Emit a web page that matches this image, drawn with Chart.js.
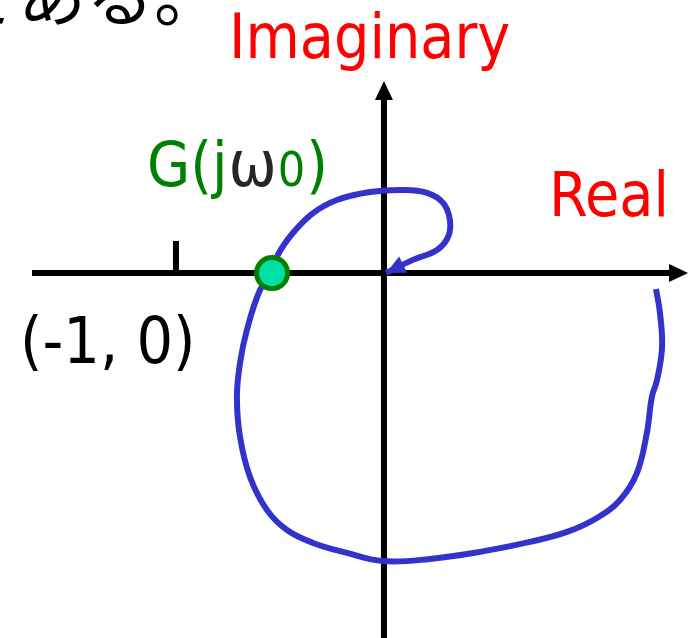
<!DOCTYPE html>
<html>
<head>
<meta charset="utf-8">
<script src="https://cdn.jsdelivr.net/npm/chart.js@4"></script>
<style>
  html, body { margin: 0; padding: 0; background: #fff; }
  canvas { display: block; }
</style>
</head>
<body>
<canvas id="nyquist" width="692" height="638"></canvas>
<script>
// Nyquist locus sketch, G(jω) (real, imaginary)
const locusRe = [1.308, 1.327, 1.337, 1.313, 1.288, 1.264, 1.216, 1.135, 1.024, 0.880, 0.702, 0.462, 0.221, -0.005,
  -0.178, -0.341, -0.466, -0.563, -0.644, -0.692, -0.707, -0.692, -0.659, -0.596, -0.538, -0.510, -0.438, -0.341,
  -0.226, -0.067, 0.091, 0.207, 0.284, 0.317, 0.308, 0.255, 0.139, 0.010];
const locusIm = [-0.077, -0.192, -0.356, -0.514, -0.596, -0.769, -0.962, -1.091, -1.178, -1.245, -1.293, -1.341, -1.375, -1.385,
  -1.346, -1.298, -1.236, -1.139, -0.981, -0.788, -0.596, -0.433, -0.274, -0.082, 0.000, 0.087, 0.192, 0.288,
  0.351, 0.389, 0.399, 0.385, 0.337, 0.255, 0.173, 0.111, 0.063, 0.000];

// crossing of the negative real axis, and the critical point
const crossPoint = [-0.538, 0];
const criticalRe = -1;
const tickHeight = 0.154;

// axis extents, arrow tip last (real axis, imaginary axis)
const realAxis = [-1.692, 1.462];
const imagAxis = [-1.755, 0.923];

const labels = {imag: 'Imaginary', real: 'Real', critical: '(-1, 0)', tail: 'である。'};

const LATIN = '"DejaVu Sans Condensed", "Liberation Sans", sans-serif';
const ARROW_LEN = 19, ARROW_HALF = 9;
const AXIS_W = 6;

const toXY = (xs, ys) => xs.map((x, i) => ({x, y: ys[i]}));

// filled triangle whose tip sits on `to`, pointing away from `from`
function arrowHead(ctx, from, to, color) {
  const a = Math.atan2(to.y - from.y, to.x - from.x);
  ctx.save();
  ctx.fillStyle = color;
  ctx.translate(to.x, to.y);
  ctx.rotate(a);
  ctx.beginPath();
  ctx.moveTo(0, 0);
  ctx.lineTo(-ARROW_LEN, -ARROW_HALF);
  ctx.lineTo(-ARROW_LEN, ARROW_HALF);
  ctx.closePath();
  ctx.fill();
  ctx.restore();
}

const decorations = {
  id: 'decorations',
  beforeDatasetsDraw(chart) {
    const {ctx, scales: {x, y}} = chart;
    const ox = x.getPixelForValue(0), oy = y.getPixelForValue(0);
    const rx0 = x.getPixelForValue(realAxis[0]), rx1 = x.getPixelForValue(realAxis[1]);
    const iy0 = y.getPixelForValue(imagAxis[0]), iy1 = y.getPixelForValue(imagAxis[1]);
    ctx.save();
    ctx.strokeStyle = '#000';
    ctx.lineWidth = AXIS_W;
    ctx.beginPath();
    ctx.moveTo(rx0, oy);
    ctx.lineTo(rx1 - ARROW_LEN + 1, oy);
    ctx.moveTo(ox, iy0);
    ctx.lineTo(ox, iy1 + ARROW_LEN - 1);
    ctx.stroke();
    ctx.restore();
    arrowHead(ctx, {x: ox, y: oy}, {x: rx1, y: oy}, '#000');
    arrowHead(ctx, {x: ox, y: oy}, {x: ox, y: iy1}, '#000');
  },
  afterDatasetsDraw(chart) {
    const {ctx, scales: {x, y}} = chart;
    // arrow at the end of the locus
    const n = locusRe.length;
    const p1 = {x: x.getPixelForValue(locusRe[n - 2]), y: y.getPixelForValue(locusIm[n - 2])};
    const p2 = {x: x.getPixelForValue(locusRe[n - 1]), y: y.getPixelForValue(locusIm[n - 1])};
    arrowHead(ctx, p1, p2, '#3333cc');
  },
  afterDraw(chart) {
    const {ctx} = chart;
    ctx.save();
    ctx.textBaseline = 'alphabetic';
    ctx.textAlign = 'left';
    ctx.font = '62px ' + LATIN;

    ctx.fillStyle = '#ff0000';
    ctx.fillText(labels.imag, 229, 58);
    ctx.fillText(labels.real, 549, 216);

    ctx.font = '64px ' + LATIN;
    ctx.fillStyle = '#000';
    ctx.fillText(labels.critical, 20, 363);

    // G(jω0) in pieces
    let gx = 147;
    const parts = [['G(j', '#008000', 62], ['ω', '#262626', 64], ['0', '#008000', 48], [')', '#008000', 62]];
    for (const [t, c, s] of parts) {
      ctx.font = s + 'px ' + LATIN;
      ctx.fillStyle = c;
      ctx.fillText(t, gx, 186);
      gx += ctx.measureText(t).width + 1;
    }

    ctx.font = '68px "Noto Sans CJK JP", sans-serif';
    ctx.fillStyle = '#000';
    ctx.fillText(labels.tail, -50, 21);
    ctx.restore();
  }
};

new Chart(document.getElementById('nyquist'), {
  type: 'scatter',
  data: {
    datasets: [
      {
        data: [{x: crossPoint[0], y: crossPoint[1]}],
        pointRadius: 15.5,
        pointBackgroundColor: '#00dfa8',
        pointBorderColor: '#008000',
        pointBorderWidth: 5
      },
      {
        data: toXY(locusRe, locusIm),
        showLine: true,
        borderColor: '#3333cc',
        borderWidth: 6,
        tension: 0.4,
        pointRadius: 0
      },
      {
        data: [{x: criticalRe, y: 0}, {x: criticalRe, y: tickHeight}],
        showLine: true,
        borderColor: '#000',
        borderWidth: AXIS_W,
        pointRadius: 0
      }
    ]
  },
  options: {
    responsive: false,
    animation: false,
    events: [],
    layout: {padding: 0, autoPadding: false},
    plugins: {legend: {display: false}, tooltip: {enabled: false}},
    scales: {
      x: {type: 'linear', display: false, min: -1.846, max: 1.481},
      y: {type: 'linear', display: false, min: -1.755, max: 1.3125}
    }
  },
  plugins: [decorations]
});
</script>
</body>
</html>
